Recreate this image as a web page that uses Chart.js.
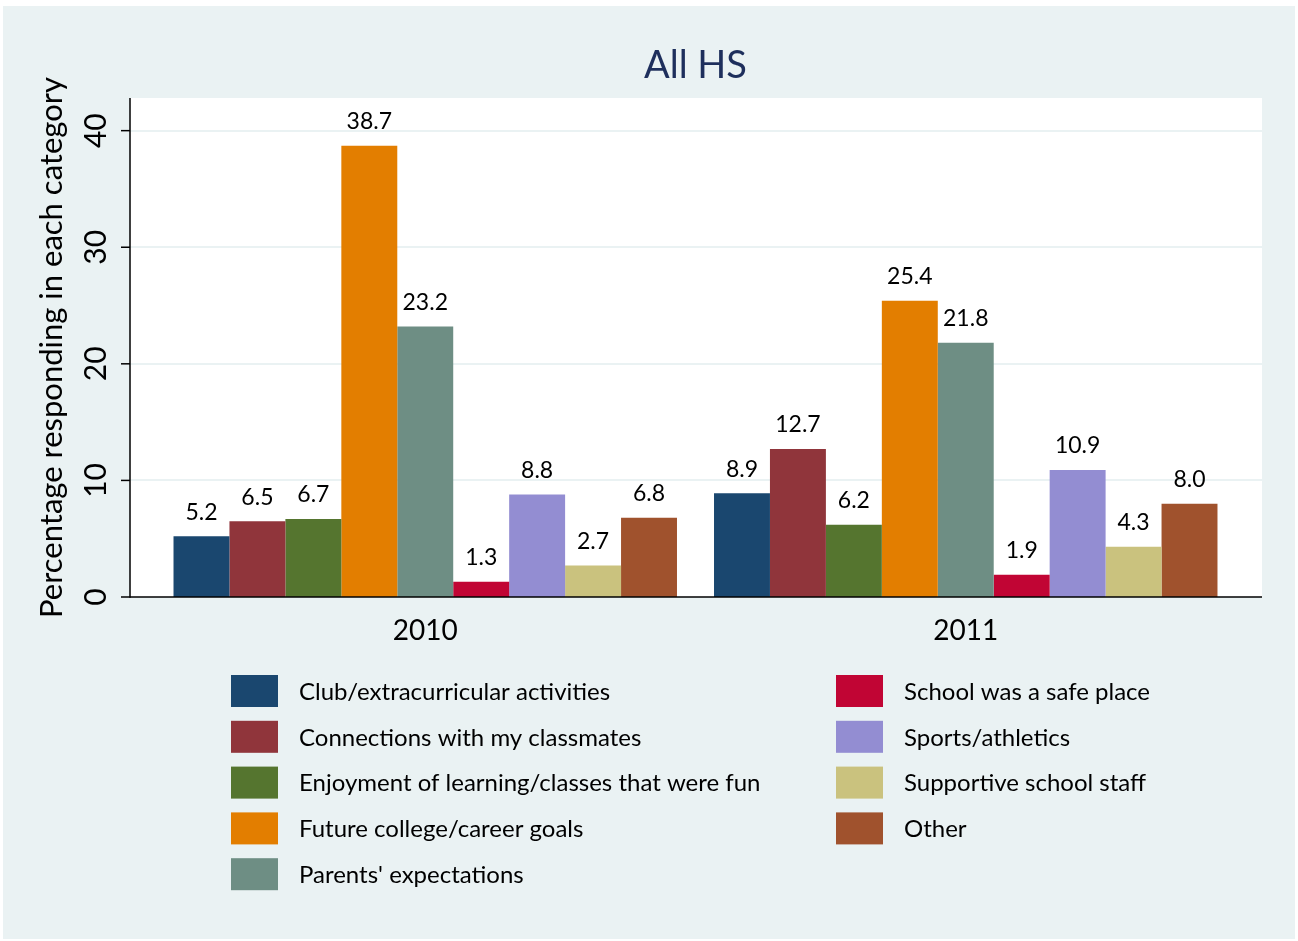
<!DOCTYPE html>
<html>
<head>
<meta charset="utf-8">
<script src="https://cdn.jsdelivr.net/npm/chart.js@4/dist/chart.umd.min.js"></script>
<style>
html,body{margin:0;padding:0;background:#ffffff;}
#wrap{width:1298px;height:941px;}
</style>
</head>
<body>
<div id="wrap"><canvas id="c" width="1298" height="941"></canvas></div>
<script>
const categories = ['2010', '2011'];
const seriesNames = [
  'Club/extracurricular activities',
  'Connections with my classmates',
  'Enjoyment of learning/classes that were fun',
  'Future college/career goals',
  "Parents' expectations",
  'School was a safe place',
  'Sports/athletics',
  'Supportive school staff',
  'Other'
];
const club = [5.2, 8.9];
const connections = [6.5, 12.7];
const enjoyment = [6.7, 6.2];
const future = [38.7, 25.4];
const parents = [23.2, 21.8];
const safe = [1.3, 1.9];
const sports = [8.8, 10.9];
const staff = [2.7, 4.3];
const other = [6.8, 8.0];
const yTicks = [0, 10, 20, 30, 40];
const colors = ['#1a476f', '#90353b', '#55752f', '#e37e00', '#6e8e84', '#c10534', '#938dd2', '#cac27e', '#a0522d'];

const seriesValues = [club, connections, enjoyment, future, parents, safe, sports, staff, other];
const FONT = 'Lato, "Open Sans", sans-serif';
const BG = '#eaf2f3';
const PLOT_L = 130, PLOT_R = 1262;

const framePlugin = {
  id: 'frame',
  beforeDraw(chart) {
    const ctx = chart.ctx;
    const ca = chart.chartArea;
    const y = chart.scales.y;
    ctx.save();
    ctx.fillStyle = '#ffffff';
    ctx.fillRect(0, 0, chart.width, chart.height);
    ctx.fillStyle = BG;
    ctx.fillRect(3, 6, 1292, 933);
    ctx.fillStyle = '#ffffff';
    ctx.fillRect(PLOT_L, ca.top, PLOT_R - PLOT_L, ca.bottom - ca.top);
    ctx.strokeStyle = BG;
    ctx.lineWidth = 2;
    yTicks.forEach(t => {
      if (t === 0) return;
      const py = Math.round(y.getPixelForValue(t));
      ctx.beginPath(); ctx.moveTo(PLOT_L, py); ctx.lineTo(PLOT_R, py); ctx.stroke();
    });
    ctx.restore();
  },
  afterDatasetsDraw(chart) {
    const ctx = chart.ctx;
    const ca = chart.chartArea;
    const y = chart.scales.y;
    ctx.save();
    ctx.strokeStyle = '#000000';
    ctx.lineWidth = 1.5;
    ctx.beginPath(); ctx.moveTo(PLOT_L, ca.top); ctx.lineTo(PLOT_L, ca.bottom + 0.75); ctx.stroke();
    ctx.beginPath(); ctx.moveTo(PLOT_L, ca.bottom); ctx.lineTo(PLOT_R, ca.bottom); ctx.stroke();
    ctx.fillStyle = '#000000';
    ctx.font = '30px ' + FONT;
    ctx.textAlign = 'center';
    ctx.textBaseline = 'middle';
    yTicks.forEach(t => {
      const py = y.getPixelForValue(t);
      ctx.beginPath(); ctx.moveTo(PLOT_L - 9, py); ctx.lineTo(PLOT_L, py); ctx.stroke();
      ctx.save();
      ctx.translate(96, py);
      ctx.rotate(-Math.PI / 2);
      ctx.fillText(String(t), 0, 0);
      ctx.restore();
    });
    ctx.save();
    ctx.translate(52, (ca.top + ca.bottom) / 2);
    ctx.rotate(-Math.PI / 2);
    ctx.font = '31px ' + FONT;
    ctx.fillText('Percentage responding in each category', 0, 0);
    ctx.restore();
    ctx.font = '23px ' + FONT;
    ctx.textAlign = 'center';
    ctx.textBaseline = 'middle';
    chart.data.datasets.forEach((ds, i) => {
      const meta = chart.getDatasetMeta(i);
      meta.data.forEach((bar, j) => {
        ctx.fillText(ds.data[j].toFixed(1), bar.x, bar.y - 24);
      });
    });
    ctx.font = '24px ' + FONT;
    ctx.textAlign = 'left';
    chart.data.datasets.forEach((ds, i) => {
      const col = i < 5 ? 0 : 1;
      const row = i < 5 ? i : i - 5;
      const sx = col === 0 ? 231 : 836;
      const cy = 691 + row * 45.8;
      ctx.fillStyle = ds.backgroundColor;
      ctx.fillRect(sx, cy - 16, 47, 32);
      ctx.fillStyle = '#000000';
      ctx.fillText(ds.label, sx + 68, cy + 1);
    });
    ctx.restore();
  }
};

const datasets = seriesNames.map((name, i) => ({
  label: name,
  data: seriesValues[i],
  backgroundColor: colors[i],
  borderWidth: 0,
  categoryPercentage: 0.9315,
  barPercentage: 1.0
}));

new Chart(document.getElementById('c'), {
  type: 'bar',
  data: { labels: categories, datasets },
  plugins: [framePlugin],
  options: {
    responsive: false,
    animation: false,
    devicePixelRatio: 1,
    layout: { padding: { left: 0, right: 62, top: 0, bottom: 284 } },
    plugins: {
      legend: { display: false },
      tooltip: { enabled: false },
      title: {
        display: true,
        text: 'All HS',
        fullSize: false,
        color: '#1e2f5c',
        font: { family: FONT, size: 38, weight: 'normal', lineHeight: 1.2 },
        padding: { top: 43, bottom: 9.4 }
      }
    },
    scales: {
      x: {
        grid: { display: false, drawTicks: false },
        border: { display: false },
        ticks: { color: '#000000', font: { family: FONT, size: 28 }, padding: 17 },
        afterFit(s) { s.height = 60; }
      },
      y: {
        min: 0,
        max: 42.8,
        grid: { display: false, drawTicks: false },
        border: { display: false },
        ticks: { display: false, stepSize: 10 },
        afterFit(s) { s.width = 155; }
      }
    }
  }
});
</script>
</body>
</html>
